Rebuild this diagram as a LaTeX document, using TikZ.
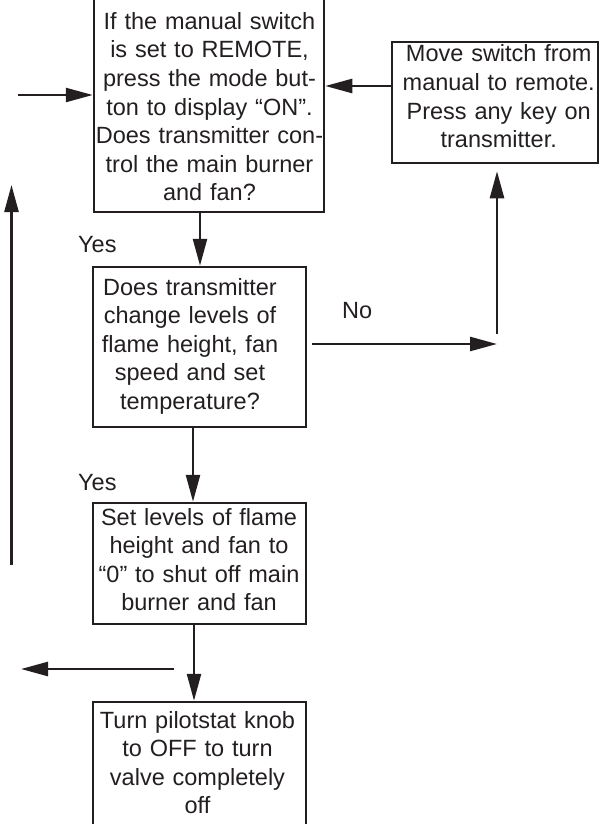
\documentclass[tikz,border=0pt]{standalone}
\usepackage{fontspec}
\setmainfont{Liberation Sans}
\usetikzlibrary{arrows.meta,calc}
\definecolor{ink}{HTML}{231F20}
\begin{document}
\begin{tikzpicture}[x=1pt,y=-1pt,
  box/.style={draw=ink, line width=2.5pt, rectangle, inner sep=0pt},
  txt/.style={text=ink, inner sep=0pt, anchor=base, text width=320pt, align=center, font=\fontsize{23.5}{28.6}\selectfont},
  lbl/.style={text=ink, inner sep=0pt, anchor=base west, font=\fontsize{23.5}{28.6}\selectfont},
  arr/.style={draw=ink, line width=2.5pt, -{Triangle[length=27pt,width=14pt]}}]
\useasboundingbox (0,0) rectangle (604,824);
\clip (0,0) rectangle (604,824);
% boxes
\node[box, minimum width=230pt, minimum height=217pt] (b1) at (209,103.5) {};
\node[box, minimum width=206pt, minimum height=121pt] (b2) at (495,102.5) {};
\node[box, minimum width=213pt, minimum height=160pt] (b3) at (199.5,347) {};
\node[box, minimum width=213pt, minimum height=121pt] (b4) at (199.5,563.5) {};
\node[box, minimum width=213pt, minimum height=128pt] (b5) at (199.5,766) {};
% texts
\node[txt] (t1) at (209.5,29.3) {If the manual switch\\is set to REMOTE,\\press the mode but-\\ton to display “ON”.\\Does transmitter con-\\trol the main burner\\and fan?};
\node[txt] (t2) at (498.7,62) {Move switch from\\manual to remote.\\Press any key on\\transmitter.};
\node[txt] (t3) at (190,295) {Does transmitter\\change levels of\\flame height, fan\\speed and set\\temperature?};
\node[txt] (t4) at (199,525) {Set levels of flame\\height and fan to\\“0” to shut off main\\burner and fan};
\node[txt] (t5) at (197.5,728) {Turn pilotstat knob\\to OFF to turn\\valve completely\\off};
% labels
\node[lbl] (yes1) at (78,252) {Yes};
\node[lbl] (yes2) at (78,490) {Yes};
\node[lbl] (no) at (342,318) {No};
% helper coordinates
\coordinate (inL) at (18,95);
\coordinate (h86) at (0,86);
\coordinate (up0) at (497,334);
\coordinate (c13) at (200,0);
\coordinate (c34) at (193,0);
\coordinate (c45) at (194,0);
\coordinate (noEnd) at (497,344);
\coordinate (lpS) at (174,669);
\coordinate (lpE) at (21,669);
\coordinate (lvS) at (11.5,565);
\coordinate (lvE) at (11.5,185);
% connectors
\draw[arr] (inL) -- (inL -| b1.west);
\draw[arr] (b2.west |- h86) -- (b1.east |- h86);
\draw[arr, shorten >=7pt] (up0) -- (up0 |- b2.south);
\draw[arr] (b1.south -| c13) -- (b3.north -| c13);
\draw[arr] (b3.south -| c34) -- (b4.north -| c34);
\draw[arr] (b4.south -| c45) -- (b5.north -| c45);
\draw[arr, shorten <=5pt] (b3.east |- noEnd) -- (noEnd);
\draw[arr] (lpS) -- (lpE);
\draw[arr] (lvS) -- (lvE);
\end{tikzpicture}
\end{document}
